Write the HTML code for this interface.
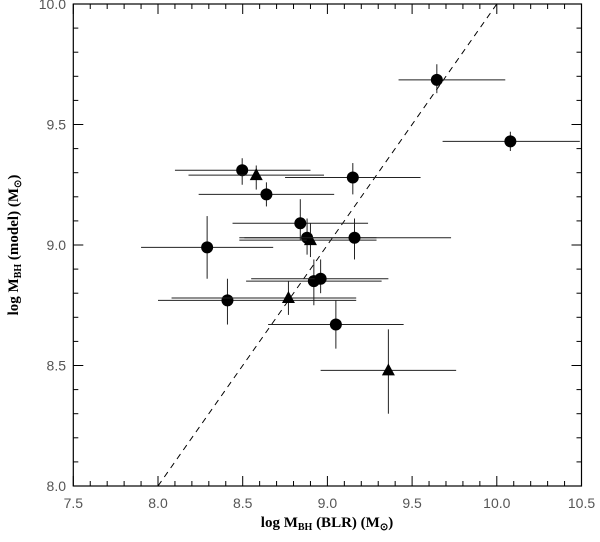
<!DOCTYPE html>
<html><head><meta charset="utf-8"><style>
body{margin:0;background:#fff}
svg text{font-family:"Liberation Sans",sans-serif}
</style></head><body>
<svg id="chart" width="600" height="537" xmlns="http://www.w3.org/2000/svg">
<g id="marks"></g>
<g id="axes"></g>
<text x="327" y="527" text-anchor="middle" font-family="Liberation Serif" font-weight="bold" font-size="15" style="font-family:'Liberation Serif',serif">log M<tspan font-size="10" dy="3">BH</tspan><tspan dy="-3"> (BLR) (M</tspan><tspan font-size="10" dy="3">⊙</tspan><tspan dy="-3">)</tspan></text>
<text transform="translate(18,245) rotate(-90)" text-anchor="middle" font-weight="bold" font-size="15" style="font-family:'Liberation Serif',serif">log M<tspan font-size="10" dy="3">BH</tspan><tspan dy="-3"> (model) (M</tspan><tspan font-size="10" dy="3">⊙</tspan><tspan dy="-3">)</tspan></text>
</svg>
<script>
const xVals=[9.646,10.08,8.497,8.58,9.15,8.64,8.84,8.88,8.90,9.16,8.29,8.92,8.96,8.41,8.77,9.05,9.36];
const yVals=[9.685,9.43,9.31,9.29,9.28,9.21,9.09,9.03,9.02,9.03,8.99,8.85,8.86,8.77,8.78,8.67,8.48];
const xLo=[9.42,9.68,8.10,8.18,8.75,8.24,8.44,8.48,8.48,8.51,7.90,8.52,8.55,8.00,8.08,8.65,8.96];
const xHi=[10.05,10.49,8.90,8.98,9.55,9.04,9.24,9.29,9.29,9.73,8.68,9.32,9.36,9.17,9.17,9.45,9.76];
const yLo=[9.63,9.39,9.25,9.23,9.21,9.16,9.02,8.96,8.95,8.94,8.86,8.75,8.80,8.67,8.71,8.57,8.30];
const yHi=[9.75,9.47,9.36,9.33,9.34,9.26,9.19,9.11,9.09,9.11,9.12,8.94,8.94,8.86,8.85,8.77,8.65];
const kinds=['c','c','c','t','c','c','c','c','t','c','c','c','c','c','t','c','t'];
const xTicks=['7.5','8.0','8.5','9.0','9.5','10.0','10.5'];
const yTicks=['8.0','8.5','9.0','9.5','10.0'];
const X0=73.3,X1=581.5,Y0=486,Y1=4;
const sx=v=>X0+(v-7.5)/3*(X1-X0);
const sy=v=>Y0-(v-8)/2*(Y0-Y1);
const NS='http://www.w3.org/2000/svg';
function mk(tag,attrs,parent){const e=document.createElementNS(NS,tag);for(const k in attrs)e.setAttribute(k,attrs[k]);parent.appendChild(e);return e;}
const marks=document.getElementById('marks'),axes=document.getElementById('axes');
let d=mk('line',{x1:sx(8),y1:sy(8),x2:sx(10),y2:sy(10),stroke:'#000','stroke-width':1,'stroke-dasharray':'6,5'},marks);


for(let i=0;i<xVals.length;i++){
 let h=mk('line',{x1:sx(xLo[i]),x2:sx(xHi[i]),y1:sy(yVals[i]),y2:sy(yVals[i]),stroke:'#222','stroke-width':1},marks);
 
 
 let v=mk('line',{x1:sx(xVals[i]),x2:sx(xVals[i]),y1:sy(yLo[i]),y2:sy(yHi[i]),stroke:'#222','stroke-width':1},marks);
 
 
 const cx=sx(xVals[i]),cy=sy(yVals[i]);
 let p;
 if(kinds[i]==='c'){p=mk('circle',{cx:cx,cy:cy,r:6,fill:'#000'},marks);}
 else{p=mk('polygon',{points:`${cx},${cy-7} ${cx-6.5},${cy+5} ${cx+6.5},${cy+5}`,fill:'#000'},marks);}
 
}
let fr=mk('rect',{x:X0,y:Y1,width:X1-X0,height:Y0-Y1,fill:'none',stroke:'#000','stroke-width':1.2},axes);


for(let k=0;k<=30;k++){const v=7.5+k*0.1,x=sx(v),L=k%5===0?10:5;
 mk('line',{x1:x,x2:x,y1:Y0,y2:Y0-L,stroke:'#000'},axes);mk('line',{x1:x,x2:x,y1:Y1,y2:Y1+L,stroke:'#000'},axes);}
for(let k=0;k<=20;k++){const v=8+k*0.1,y=sy(v),L=k%5===0?10:5;
 mk('line',{x1:X0,x2:X0+L,y1:y,y2:y,stroke:'#000'},axes);mk('line',{x1:X1,x2:X1-L,y1:y,y2:y,stroke:'#000'},axes);}
xTicks.forEach(t=>{let e=mk('text',{x:sx(parseFloat(t)),y:508,'text-anchor':'middle','font-size':14,fill:'#555'},axes);e.textContent=t;
 
 });
yTicks.forEach(t=>{let e=mk('text',{x:66,y:sy(parseFloat(t))+5,'text-anchor':'end','font-size':14,fill:'#555'},axes);e.textContent=t;
 
 });
</script>
</body></html>
